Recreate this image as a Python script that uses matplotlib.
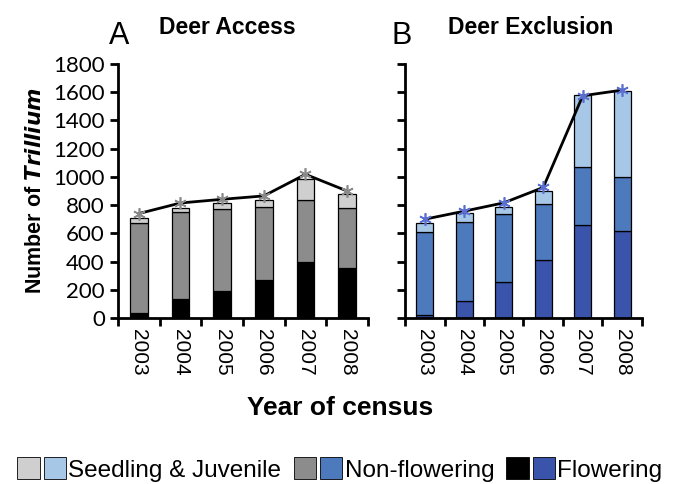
import matplotlib.pyplot as plt
from matplotlib.patches import Patch
from matplotlib.legend_handler import HandlerTuple
import numpy as np

# --- Data ---
years = ['2003', '2004', '2005', '2006', '2007', '2008']

# Deer access plots (A)
acc_flowering = [35, 134, 193, 266, 400, 357]
acc_nonflowering = [635, 618, 582, 521, 439, 425]
acc_seedling = [42, 30, 43, 52, 148, 95]
acc_total_line = [740, 815, 841, 865, 1018, 900]

# Deer exclusion plots (B)
exc_flowering = [23, 117, 252, 408, 657, 613]
exc_nonflowering = [583, 563, 482, 403, 410, 384]
exc_seedling = [70, 61, 54, 91, 510, 611]
exc_total_line = [700, 757, 816, 925, 1575, 1615]

grays = ['black', '#8c8c8c', '#cfcfcf']
blues = ['#3a53ab', '#4d79bd', '#a7c7e7']

plt.rcParams['font.family'] = ['Liberation Sans', 'DejaVu Sans']

fig = plt.figure(figsize=(6.8, 4.84), dpi=100)
ax_a = fig.add_axes([0.1735, 0.343, 0.3676, 0.5248])
ax_b = fig.add_axes([0.5956, 0.343, 0.3485, 0.5248])


def draw_panel(ax, flw, nonf, seed, line, colors, mcolor, show_labels):
    x = np.arange(len(years))
    flw = np.array(flw)
    nonf = np.array(nonf)
    seed = np.array(seed)
    w = 0.42
    ax.bar(x, flw, w, color=colors[0], edgecolor='black', linewidth=0.9)
    ax.bar(x, nonf, w, bottom=flw, color=colors[1], edgecolor='black', linewidth=0.9)
    ax.bar(x, seed, w, bottom=flw + nonf, color=colors[2], edgecolor='black', linewidth=0.9)
    ax.plot(x, line, color='black', lw=2, zorder=3)
    ax.plot(x, line, ls='none', marker=(6, 2, 0), ms=9, mew=1.2,
            color=mcolor, zorder=4)

    ax.set_xlim(-0.5, len(years) - 0.5)
    ax.set_ylim(0, 1800)
    ax.set_yticks(np.arange(0, 1801, 200))
    ax.set_xticks(np.arange(-0.5, len(years), 1.0))
    ax.set_xticklabels([])
    ax.set_xticks(x, minor=True)
    ax.set_xticklabels(years, minor=True, rotation=270, fontsize=15)
    ax.tick_params(axis='x', which='minor', length=0, pad=8)
    ax.tick_params(axis='both', which='major', direction='out', length=6, width=2)
    if show_labels:
        ax.set_yticklabels([str(v) for v in range(0, 1801, 200)],
                           fontsize=16, family='Lato')
    else:
        ax.set_yticklabels([])
    for s in ['top', 'right']:
        ax.spines[s].set_visible(False)
    for s in ['left', 'bottom']:
        ax.spines[s].set_linewidth(2)


draw_panel(ax_a, acc_flowering, acc_nonflowering, acc_seedling, acc_total_line,
           grays, '#8a8a8a', True)
draw_panel(ax_b, exc_flowering, exc_nonflowering, exc_seedling, exc_total_line,
           blues, '#5a6fcf', False)

# Panel titles
fig.text(0.16, 0.91, 'A', fontsize=22)
fig.text(0.335, 0.93, 'Deer Access', fontsize=16.5, fontweight='bold', ha='center')
fig.text(0.576, 0.91, 'B', fontsize=22)
fig.text(0.78, 0.93, 'Deer Exclusion', fontsize=16.5, fontweight='bold', ha='center')

ax_a.set_ylabel('Number of $\\bfit{Trillium}$', fontsize=15.5, fontweight='bold', labelpad=5)
fig.text(0.5, 0.142, 'Year of census', fontsize=19, fontweight='bold', ha='center')

# Legend with paired swatches
handles = [
    (Patch(facecolor=grays[2], edgecolor='black', lw=0.6), Patch(facecolor=blues[2], edgecolor='black', lw=0.6)),
    (Patch(facecolor=grays[1], edgecolor='black', lw=0.6), Patch(facecolor=blues[1], edgecolor='black', lw=0.6)),
    (Patch(facecolor=grays[0], edgecolor='black', lw=0.6), Patch(facecolor=blues[0], edgecolor='black', lw=0.6)),
]
labels = ['Seedling & Juvenile', 'Non-flowering', 'Flowering']
fig.legend(handles, labels, handler_map={tuple: HandlerTuple(ndivide=None, pad=0.15)},
           loc='center', bbox_to_anchor=(0.5, 0.03), ncol=3, frameon=False,
           fontsize=17.5, handlelength=2.0, handleheight=1.0, handletextpad=0.1,
           columnspacing=0.5)

plt.savefig('out.png', dpi=100)
